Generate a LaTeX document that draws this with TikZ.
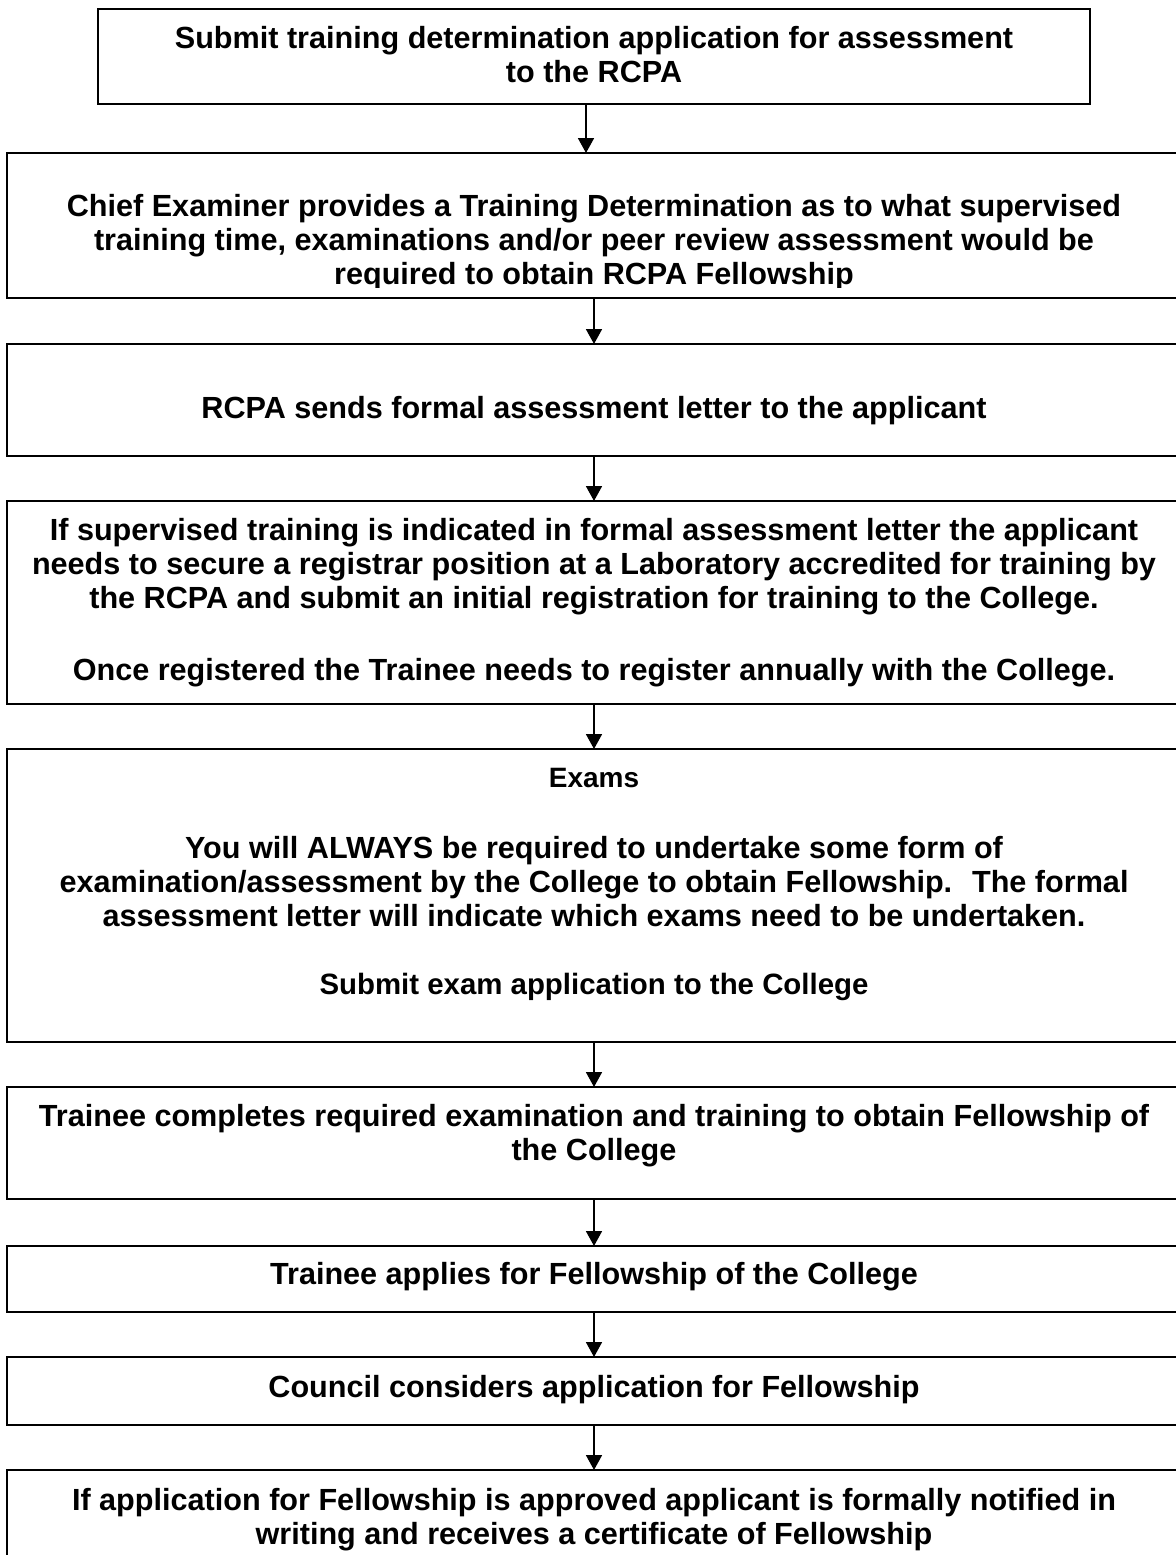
\documentclass[tikz,border=0pt]{standalone}
\usepackage{fontspec}
\setmainfont{Liberation Sans}
\usetikzlibrary{arrows.meta}
\begin{document}
\begin{tikzpicture}[x=1pt,y=-1pt,
  box/.style={draw=black, line width=2.2pt, rectangle, inner sep=0pt, outer sep=0pt},
  txt/.style={anchor=north, align=center, inner sep=0pt, font=\fontsize{30.6}{34}\selectfont\bfseries},
  arr/.style={-{Triangle[width=16pt,length=15pt]}, line width=1.8pt}]
\useasboundingbox (0,0) rectangle (1175,1555);
\fill[white] (0,0) rectangle (1175,1555);

% boxes
\node[box, minimum width=992pt, minimum height=95pt] (B1) at (594,56.5) {};
\node[box, minimum width=1174pt, minimum height=145pt] (B2) at (594,225.5) {};
\node[box, minimum width=1174pt, minimum height=112pt] (B3) at (594,400) {};
\node[box, minimum width=1174pt, minimum height=203pt] (B4) at (594,602.5) {};
\node[box, minimum width=1174pt, minimum height=293pt] (B5) at (594,895.5) {};
\node[box, minimum width=1174pt, minimum height=112pt] (B6) at (594,1143) {};
\node[box, minimum width=1174pt, minimum height=66pt] (B7) at (594,1279) {};
\node[box, minimum width=1174pt, minimum height=68pt] (B8) at (594,1391) {};
\node[box, minimum width=1174pt, minimum height=130pt] (B9) at (594,1535) {};

% texts
\node[txt] (T1) at (594,26) {Submit training determination application for assessment\\to the RCPA};
\begin{scope}
\clip (0,153) rectangle (1175,287.5);
\node[txt] (T2) at (594,194) {Chief Examiner provides a Training Determination as to what supervised\\training time, examinations and/or peer review assessment would be\\required to obtain RCPA Fellowship};
\end{scope}
\node[txt] (T3) at (594,396) {RCPA sends formal assessment letter to the applicant};
\node[txt] (T4) at (594,518) {If supervised training is indicated in formal assessment letter the applicant\\needs to secure a registrar position at a Laboratory accredited for training by\\the RCPA and submit an initial registration for training to the College.\\[38pt]Once registered the Trainee needs to register annually with the College.};
\node[txt] (T5) at (594,768) {{\fontsize{28}{34}\selectfont Exams}\\[37pt]You will ALWAYS be required to undertake some form of\\examination/assessment by the College to obtain Fellowship.~ The formal\\assessment letter will indicate which exams need to be undertaken.\\[34pt]{\fontsize{29.4}{34}\selectfont Submit exam application to the College}};
\node[txt] (T6) at (594,1104) {Trainee completes required examination and training to obtain Fellowship of\\the College};
\node[txt] (T7) at (594,1262) {Trainee applies for Fellowship of the College};
\node[txt] (T8) at (594,1375) {Council considers application for Fellowship};
\node[txt] (T9) at (594,1488) {If application for Fellowship is approved applicant is formally notified in\\writing and receives a certificate of Fellowship};

% arrows
\draw[arr] ([xshift=-8pt]B1.south) -- ([xshift=-8pt]B1.south |- B2.north);
\draw[arr] (B2.south) -- (B3.north);
\draw[arr] (B3.south) -- (B4.north);
\draw[arr] (B4.south) -- (B5.north);
\draw[arr] (B5.south) -- (B6.north);
\draw[arr] (B6.south) -- (B7.north);
\draw[arr] (B7.south) -- (B8.north);
\draw[arr] (B8.south) -- (B9.north);
\end{tikzpicture}
\end{document}
